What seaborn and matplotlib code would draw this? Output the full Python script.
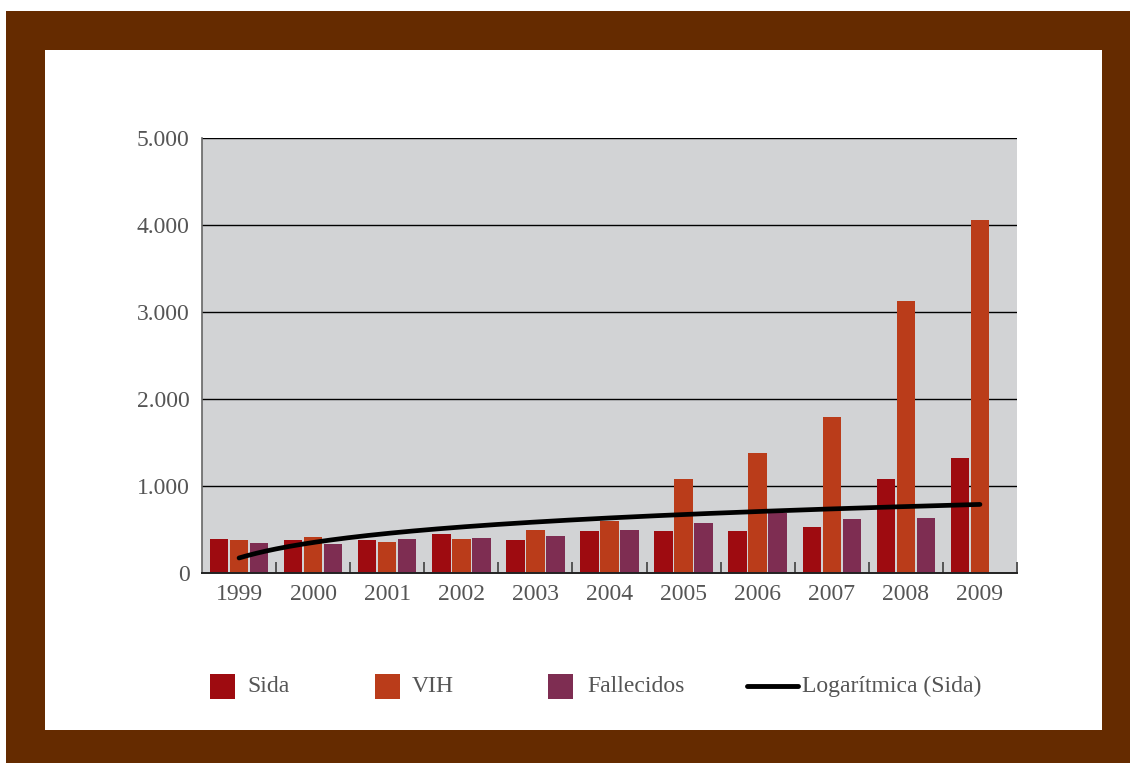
import numpy as np
import pandas as pd
import matplotlib
matplotlib.use("Agg")
import matplotlib.pyplot as plt
import seaborn as sns
from matplotlib.patches import Rectangle
from matplotlib.lines import Line2D
from matplotlib.ticker import FuncFormatter, FixedLocator

# ---- data ----
years = ['1999', '2000', '2001', '2002', '2003', '2004', '2005', '2006', '2007', '2008', '2009']
sida = [394, 383, 383, 452, 383, 485, 485, 486, 532, 1084, 1326]
vih = [383, 417, 360, 394, 498, 600, 1084, 1383, 1797, 3130, 4057]
fallecidos = [348, 337, 394, 406, 429, 496, 578, 685, 625, 636, np.nan]
series_names = ['Sida', 'VIH', 'Fallecidos']
trend_label = 'Logarítmica (Sida)'
y_ticks = [0, 1000, 2000, 3000, 4000, 5000]

colors = {'Sida': '#9E0B10', 'VIH': '#BA3C1A', 'Fallecidos': '#7E2D52'}
brown = '#652B00'
text_col = '#555555'

df = pd.DataFrame({
    'year': years * 3,
    'value': sida + vih + fallecidos,
    'serie': ['Sida'] * len(years) + ['VIH'] * len(years) + ['Fallecidos'] * len(years),
})

sns.set_theme(style='white')
plt.rcParams['font.family'] = ['Liberation Serif', 'DejaVu Serif']

W, H = 1130, 763
fig = plt.figure(figsize=(W / 100, H / 100), dpi=100)
fig.patch.set_facecolor('white')

# frame
fig.patches.append(Rectangle((6 / W, 0), 1 - 6 / W, 1 - 11 / H, transform=fig.transFigure,
                             facecolor=brown, edgecolor='none', zorder=-2))
fig.patches.append(Rectangle((45 / W, (H - 730) / H), (1102 - 45) / W, (730 - 50) / H,
                             transform=fig.transFigure, facecolor='white', edgecolor='none', zorder=-1))

ax = fig.add_axes([202 / W, (H - 573) / H, (1017 - 202) / W, (573 - 138) / H])
ax.set_zorder(2)
ax.set_facecolor('#D2D3D5')

sns.barplot(data=df, x='year', y='value', hue='serie', hue_order=series_names,
            palette=colors, width=0.81, gap=0.08, ax=ax, legend=False,
            saturation=1, errorbar=None, linewidth=0, edgecolor='none')

# logarithmic trend line fitted to Sida
k = np.arange(1, len(years) + 1)
a, b = np.polyfit(np.log(k), np.array(sida, dtype=float), 1)
xs = np.linspace(1, len(years), 300)
ax.plot(xs - 1, a * np.log(xs) + b, color='black', lw=3.4, solid_capstyle='round', zorder=5)

ax.set_xlim(-0.5, len(years) - 0.5)
ax.set_ylim(0, 5000)
ax.set_yticks(y_ticks)
ax.yaxis.set_major_formatter(FuncFormatter(lambda v, p: f'{int(v):,}'.replace(',', '.')))
for yv in y_ticks[1:]:
    ax.axhline(yv, color='black', lw=1.0, zorder=0.8)
ax.set_axisbelow(True)

ax.set_xlabel('')
ax.set_ylabel('')
ax.tick_params(axis='y', length=0, pad=9, labelsize=17, labelcolor=text_col)
ax.tick_params(axis='x', which='major', length=0, pad=8, labelsize=17, labelcolor=text_col)
ax.xaxis.set_minor_locator(FixedLocator(np.arange(0.5, len(years), 1.0)))
ax.tick_params(axis='x', which='minor', bottom=True, direction='in', length=8, width=1.4,
               color='#555555')

for s in ['top', 'right']:
    ax.spines[s].set_visible(False)
ax.spines['left'].set_color('#666666')
ax.spines['left'].set_linewidth(1.2)
ax.spines['bottom'].set_color('#222222')
ax.spines['bottom'].set_linewidth(1.4)

# legend (manual, figure coordinates)
ly = 686
items = [('Sida', 210, 247), ('VIH', 375, 412), ('Fallecidos', 548, 587)]
for name, px, tx in items:
    fig.patches.append(Rectangle((px / W, (H - ly - 12.5) / H), 25 / W, 25 / H,
                                 transform=fig.transFigure, facecolor=colors[name],
                                 edgecolor='none', zorder=3))
    fig.text(tx / W, (H - ly) / H, name, ha='left', va='center', fontsize=17, color=text_col)
fig.lines.append(Line2D([747 / W, 798 / W], [(H - ly) / H, (H - ly) / H], transform=fig.transFigure,
                        color='black', lw=3.5, solid_capstyle='round', zorder=3))
fig.text(802 / W, (H - ly) / H, trend_label, ha='left', va='center', fontsize=17, color=text_col)

fig.savefig('out.png', dpi=100, facecolor='white')
